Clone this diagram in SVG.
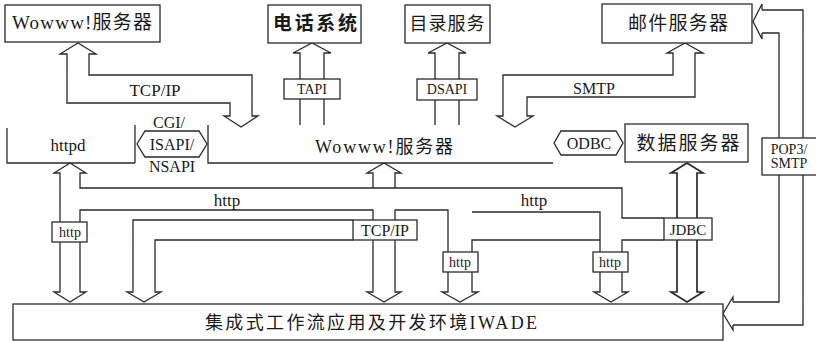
<svg xmlns="http://www.w3.org/2000/svg" width="816" height="342" viewBox="0 0 816 342">
<style>
.ln{fill:none;stroke:#2a2a2a;stroke-width:1.3;stroke-linejoin:miter}
.bd{fill:none;stroke:#2a2a2a;stroke-width:1.7}
.bx{fill:#fff;stroke:#2a2a2a;stroke-width:1.3}
.t{font-family:"Liberation Serif","Noto Sans CJK SC",serif;fill:#1a1a1a;text-anchor:middle}
.c{font-family:"Noto Sans CJK SC","Liberation Sans",sans-serif;fill:#1a1a1a;text-anchor:middle}
</style>
<rect width="816" height="342" fill="#fff"/>
<g id="connectors">
  <!-- TCP/IP top-left -->
  <path class="ln" d="M67,103 V54 H60 L78,43 L96,54 H89 V75 H252 V116 H258 L241,127 L224,116 H230 V103 Z"/>
  <!-- TAPI -->
  <path class="ln" d="M300,125 V99 M300,79 V53 H293 L312,43 L331,53 H324 V79 M324,99 V125"/>
  <rect class="bx" x="284" y="79" width="56" height="20"/>
  <!-- DSAPI -->
  <path class="ln" d="M435,125 V100 M435,79 V53 H428 L447,43 L466,53 H459 V79 M459,100 V125"/>
  <rect class="bx" x="417" y="79" width="60" height="21"/>
  <!-- SMTP -->
  <path class="ln" d="M673,75 V53 H667 L685,43 L703,53 H695 V97 H527 V116 H533 L515,127 L497,116 H503 V75 Z"/>
  <!-- POP3/SMTP -->
  <path class="ln" d="M762,10 H803 V325 H733 M762,33 H779 V302 H733 M762,10 V4 L753,21.5 L762,39 V33 M733,302 V297 L723,313.5 L733,330 V325"/>
  <rect class="bx" x="762" y="138" width="60" height="37"/>
  <!-- CGI/ISAPI/NSAPI -->
  <path class="ln" d="M137,144 L145,131 H199 L207,144 L199,157 H145 Z"/>
  <!-- ODBC -->
  <path class="ln" d="M554,143 L561,131 H616 L623,143 L616,155 H561 Z"/>
  <!-- httpd arrow + http band -->
  <path class="ln" d="M60,222 V173 H54 L70,163 L86,173 H80 V188 H622 V218 H664 M80,222 V210 H373 V220"/>
  <rect class="bx" x="52" y="222" width="35" height="20"/>
  <path class="ln" d="M60,242 V292 H54 L70,302 L86,292 H80 V242"/>
  <!-- left loop -->
  <path class="ln" d="M353,220 H133 V292 H127 L144,302 L161,292 H155 V240 H353"/>
  <!-- TCP/IP vertical -->
  <path class="ln" d="M373,240 V292 H367 L384,302 L401,292 H395 V240"/>
  <path class="ln" d="M373,188 V173 H367 L384,163 L401,173 H395 V188"/>
  <rect class="bx" x="353" y="220" width="64" height="20"/>
  <path class="ln" d="M395,220 V210 H448 V252"/>
  <!-- left http arrow -->
  <path class="ln" d="M472,252 V240 H600 M472,212 H600 V252"/>
  <rect class="bx" x="443" y="252" width="35" height="20"/>
  <path class="ln" d="M448,272 V292 H442 L460,302 L478,292 H472 V272"/>
  <!-- right http arrow -->
  <path class="ln" d="M622,252 V240 H664"/>
  <rect class="bx" x="593" y="252" width="35" height="20"/>
  <path class="ln" d="M600,272 V292 H594 L611,302 L628,292 H622 V272"/>
  <!-- JDBC -->
  <path class="bd" d="M677,218 V173 H671 L687,163 L703,173 H697 V218 M677,240 V292 H671 L687,302 L703,292 H697 V240"/>
  <rect class="bx" x="664" y="218" width="48" height="22"/>
  <!-- Middle region outlines -->
  <path class="ln" d="M7,128 V163 H135 M135,125 V163 M208,125 V163 H553"/>
  <!-- connector labels -->
  <text class="t" x="155" y="96" font-size="17">TCP/IP</text>
  <text class="t" x="312" y="94" font-size="14">TAPI</text>
  <text class="t" x="447" y="94" font-size="14">DSAPI</text>
  <text class="t" x="594" y="94" font-size="16">SMTP</text>
  <text class="t" x="789" y="154" font-size="14">POP3/</text>
  <text class="t" x="789" y="168" font-size="14">SMTP</text>
  <text class="t" x="169" y="128" font-size="16">CGI/</text>
  <text class="t" x="172" y="150" font-size="16">ISAPI/</text>
  <text class="t" x="172" y="172" font-size="16">NSAPI</text>
  <text class="t" x="589" y="149" font-size="16">ODBC</text>
  <text class="t" x="227" y="206" font-size="17">http</text>
  <text class="t" x="534" y="206" font-size="17">http</text>
  <text class="t" x="70" y="237" font-size="14">http</text>
  <text class="t" x="385" y="236" font-size="16">TCP/IP</text>
  <text class="t" x="460" y="267" font-size="14">http</text>
  <text class="t" x="610" y="267" font-size="14">http</text>
  <text class="t" x="688" y="235" font-size="15">JDBC</text>
</g>
<g id="node-wowww-top">
  <rect class="bx" x="5" y="5" width="155" height="37"/>
  <text class="t" x="82" y="29" font-size="19" textLength="140" lengthAdjust="spacing">Wowww!服务器</text>
</g>
<g id="node-phone">
  <rect class="bx" x="268" y="5" width="93" height="38"/>
  <text class="c" x="315" y="30" font-size="19" font-weight="bold" textLength="84" lengthAdjust="spacing">电话系统</text>
</g>
<g id="node-dir">
  <rect class="bx" x="405" y="5" width="85" height="38"/>
  <text class="c" x="447" y="30" font-size="18" textLength="75" lengthAdjust="spacing">目录服务</text>
</g>
<g id="node-mail">
  <rect class="bx" x="602" y="4" width="150" height="39"/>
  <text class="c" x="678" y="30" font-size="19" textLength="100" lengthAdjust="spacing">邮件服务器</text>
</g>
<g id="node-httpd">
  <text class="t" x="68" y="151" font-size="17">httpd</text>
</g>
<g id="node-wowww-mid">
  <text class="t" x="384" y="153" font-size="18" textLength="138" lengthAdjust="spacing">Wowww!服务器</text>
</g>
<g id="node-data">
  <rect class="bx" x="625" y="124" width="123" height="38"/>
  <text class="c" x="688" y="150" font-size="19" textLength="103" lengthAdjust="spacing">数据服务器</text>
</g>
<g id="node-iwade">
  <rect class="bx" x="13" y="304" width="710" height="36"/>
  <text class="t" x="371" y="329" font-size="18" textLength="332" lengthAdjust="spacing">集成式工作流应用及开发环境IWADE</text>
</g>
</svg>
